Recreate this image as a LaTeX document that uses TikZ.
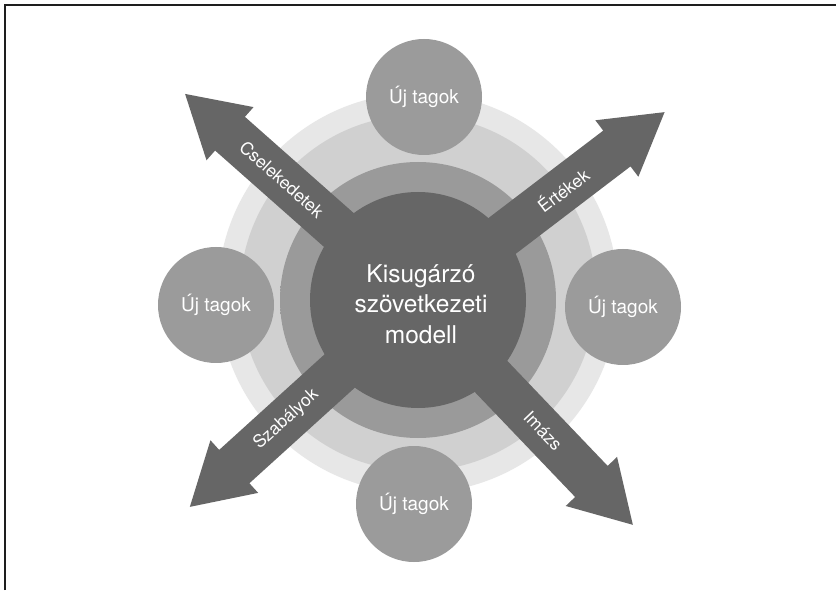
\documentclass[tikz,border=0pt]{standalone}
\usepackage{fontspec}
\setmainfont{TeX Gyre Heros}
\usetikzlibrary{calc}
\definecolor{ringfour}{HTML}{E7E7E7}
\definecolor{ringthree}{HTML}{D0D0D0}
\definecolor{ringdark}{HTML}{9A9A9A}
\definecolor{ringlight}{HTML}{BEBEBE}
\definecolor{coredark}{HTML}{666666}
\definecolor{satgray}{HTML}{9B9B9B}
\definecolor{framecol}{HTML}{1E1E1E}
\pgfdeclareradialshading{ringshade}{\pgfpoint{0bp}{0bp}}{color(0bp)=(ringdark); color(38bp)=(ringdark); color(50bp)=(ringlight)}
\tikzset{
  arrowbody/.style={fill=coredark, draw=none},
  satellite/.style={circle, fill=satgray, minimum size=116pt, inner sep=0pt, text=white, font=\fontsize{19}{22}\selectfont},
  armlabel/.style={text=white, font=\fontsize{17.5}{19}\selectfont, inner sep=0pt, transform shape},
  coretext/.style={text=white, align=center, font=\fontsize{24.5}{30.5}\selectfont, inner sep=0pt}
}
\newcommand\radarm[1]{% #1 length
  \fill[arrowbody] (0,22.5) -- ({#1-60},22.5) -- ({#1-60},35.5) -- (#1,0) -- ({#1-60},-35.5) -- ({#1-60},-22.5) -- (0,-22.5) -- cycle;
}
\begin{document}
\begin{tikzpicture}[x=1pt,y=1pt]
\useasboundingbox (0,0) rectangle (836,590);
\fill[white] (0,0) rectangle (836,590);
\coordinate (c) at (418,290);
\coordinate (co) at (418,297);
% rings
\fill[ringfour] (co) circle (200);
\fill[ringthree] (co) circle (178);
\shade[shading=ringshade] (c) circle (138);
\fill[coredark] (c) circle (108);
% arrows
\begin{scope}[shift={(c)}, rotate=138.5]
  \radarm{311}
  \node[armlabel, rotate=180] (lcsel) at (182,0) {Cselekedetek};
\end{scope}
\begin{scope}[shift={(c)}, rotate=37.3]
  \radarm{310}
  \node[armlabel] (lert) at (182,0) {Értékek};
\end{scope}
\begin{scope}[shift={(c)}, rotate=222.2]
  \radarm{308}
  \node[armlabel, rotate=180] (lszab) at (178,0) {Szabályok};
\end{scope}
\begin{scope}[shift={(c)}, rotate=-46.3]
  \radarm{311}
  \node[armlabel] (limazs) at (181,0) {Imázs};
\end{scope}
% satellites
\node[satellite] (stop) at (424,493) {Új tagok};
\node[satellite] (sleft) at (216,285) {Új tagok};
\node[satellite] (sright) at (623,283) {Új tagok};
\node[satellite] (sbot) at (414,86) {Új tagok};
% core text
\node[coretext] (core) at (421,286) {Kisugárzó\\szövetkezeti\\modell};
% frame
\draw[framecol, line width=2pt] (5,0) -- (5,584.5) -- (836,584.5);
\end{tikzpicture}
\end{document}
